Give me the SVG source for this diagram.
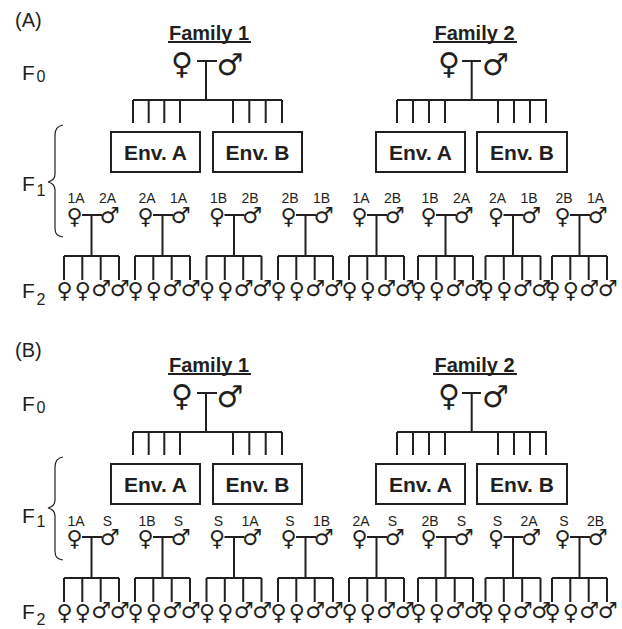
<svg xmlns="http://www.w3.org/2000/svg" width="622" height="629" viewBox="0 0 622 629">
<style>
.ln{stroke:#231f20;stroke-width:2;fill:none;stroke-linecap:butt}
.br{stroke:#231f20;stroke-width:1.2;fill:none}
.box{stroke:#231f20;stroke-width:2;fill:#fff}
.t{font-family:"Liberation Sans",Arial,sans-serif;fill:#231f20}
.sy{font-family:"DejaVu Sans",sans-serif;fill:#231f20}
.sec{font-size:20px}
.gen{font-size:21px}
.sub{font-size:16px}
.fam{font-size:20px;font-weight:bold;text-anchor:middle}
.env{font-size:21px;font-weight:bold;text-anchor:middle}
.lab{font-size:14px;text-anchor:middle}
.s0{font-size:30px;text-anchor:middle}
.s1{font-size:22px;text-anchor:middle}
</style>
<rect width="622" height="629" fill="#fff"/>

<!-- ===== Section A ===== -->
<g id="labelA"><text class="t sec" x="15" y="27">(A)</text></g>
<g id="genA0"><text class="t gen" x="22" y="80">F</text><text class="t sub" x="36.5" y="82">0</text></g>
<g id="genA1"><text class="t gen" x="22" y="191">F</text><text class="t sub" x="36.5" y="196">1</text></g>
<g id="genA2"><text class="t gen" x="22" y="298">F</text><text class="t sub" x="36.5" y="305">2</text></g>
<g id="braceA"><path class="br" d="M63,125 C57,126 55,129 55,135 L55,174 C55,179 52,181 48,182 C52,183 55,185 55,190 L55,228 C55,234 57,236 63,237"/></g>

<g id="famA1"><text class="t fam" x="209" y="39.5">Family 1</text><line class="ln" x1="168" y1="42" x2="251" y2="42" stroke-width="1.6"/></g>
<g id="famA2"><text class="t fam" x="474.5" y="39.5">Family 2</text><line class="ln" x1="433" y1="42" x2="517" y2="42" stroke-width="1.6"/></g>

<g id="pA1"><text class="sy s0" x="182" y="74">♀</text><text class="sy s0" x="230" y="75">♂</text></g>
<g id="pA2"><text class="sy s0" x="449" y="74">♀</text><text class="sy s0" x="495.5" y="75">♂</text></g>

<g id="envA1a"><rect class="box" x="111" y="132" width="89" height="40"/><text class="t env" x="155.5" y="159.5">Env. A</text></g>
<g id="envA1b"><rect class="box" x="213" y="132" width="89" height="40"/><text class="t env" x="257.5" y="159.5">Env. B</text></g>
<g id="envA2a"><rect class="box" x="376" y="132" width="89" height="40"/><text class="t env" x="420.5" y="159.5">Env. A</text></g>
<g id="envA2b"><rect class="box" x="477" y="132" width="90" height="40"/><text class="t env" x="522" y="159.5">Env. B</text></g>

<g id="f1A1"><text class="t lab" x="76" y="203">1A</text><text class="t lab" x="107.5" y="203">2A</text><text class="sy s1" x="74.5" y="224">♀</text><text class="sy s1" x="109.5" y="223">♂</text></g>
<g id="f1A2"><text class="t lab" x="147" y="203">2A</text><text class="t lab" x="178.5" y="203">1A</text><text class="sy s1" x="145.5" y="224">♀</text><text class="sy s1" x="180.5" y="223">♂</text></g>
<g id="f1A3"><text class="t lab" x="218.5" y="203">1B</text><text class="t lab" x="250" y="203">2B</text><text class="sy s1" x="217" y="224">♀</text><text class="sy s1" x="252" y="223">♂</text></g>
<g id="f1A4"><text class="t lab" x="290" y="203">2B</text><text class="t lab" x="321.5" y="203">1B</text><text class="sy s1" x="288.5" y="224">♀</text><text class="sy s1" x="323.5" y="223">♂</text></g>
<g id="f1A5"><text class="t lab" x="361" y="203">1A</text><text class="t lab" x="392.5" y="203">2B</text><text class="sy s1" x="359.5" y="224">♀</text><text class="sy s1" x="394.5" y="223">♂</text></g>
<g id="f1A6"><text class="t lab" x="430" y="203">1B</text><text class="t lab" x="461.5" y="203">2A</text><text class="sy s1" x="428.5" y="224">♀</text><text class="sy s1" x="463.5" y="223">♂</text></g>
<g id="f1A7"><text class="t lab" x="497.5" y="203">2A</text><text class="t lab" x="529" y="203">1B</text><text class="sy s1" x="496" y="224">♀</text><text class="sy s1" x="531" y="223">♂</text></g>
<g id="f1A8"><text class="t lab" x="564" y="203">2B</text><text class="t lab" x="595.5" y="203">1A</text><text class="sy s1" x="562.5" y="224">♀</text><text class="sy s1" x="597.5" y="223">♂</text></g>

<g id="f2A1"><text class="sy s1" x="64.5 82.8 101.2 119.5" y="298 298 296 296">♀♀♂♂</text></g>
<g id="f2A2"><text class="sy s1" x="135.5 153.8 172.2 190.5" y="298 298 296 296">♀♀♂♂</text></g>
<g id="f2A3"><text class="sy s1" x="207 225.3 243.7 262" y="298 298 296 296">♀♀♂♂</text></g>
<g id="f2A4"><text class="sy s1" x="278.5 296.8 315.2 333.5" y="298 298 296 296">♀♀♂♂</text></g>
<g id="f2A5"><text class="sy s1" x="349.5 367.8 386.2 404.5" y="298 298 296 296">♀♀♂♂</text></g>
<g id="f2A6"><text class="sy s1" x="418.5 436.8 455.2 473.5" y="298 298 296 296">♀♀♂♂</text></g>
<g id="f2A7"><text class="sy s1" x="486 504.3 522.7 541" y="298 298 296 296">♀♀♂♂</text></g>
<g id="f2A8"><text class="sy s1" x="552.5 570.8 589.2 607.5" y="298 298 296 296">♀♀♂♂</text></g>

<g id="connA" class="ln">
<path d="M197,61H217M206,61V100M133,100H282M133,100V123M148.7,100V123M164.3,100V123M180,100V123M233,100V123M249.3,100V123M265.7,100V123M282,100V123"/>
<path d="M462,61H481M471.7,61V100M397,100H547M397,100V123M413,100V123M429,100V123M445,100V123M498,100V123M514,100V123M530,100V123M546,100V123"/>
<path d="M82,215H102M91.5,215V256M64,256H119M64,256V280M82.3,256V280M100.7,256V280M119,256V280"/>
<path d="M153,215H173M162.5,215V256M135,256H190M135,256V280M153.3,256V280M171.7,256V280M190,256V280"/>
<path d="M224.5,215H244.5M234,215V256M206.5,256H261.5M206.5,256V280M224.8,256V280M243.2,256V280M261.5,256V280"/>
<path d="M296,215H316M305.5,215V256M278,256H333M278,256V280M296.3,256V280M314.7,256V280M333,256V280"/>
<path d="M367,215H387M376.5,215V256M349,256H404M349,256V280M367.3,256V280M385.7,256V280M404,256V280"/>
<path d="M436,215H456M445.5,215V256M418,256H473M418,256V280M436.3,256V280M454.7,256V280M473,256V280"/>
<path d="M503.5,215H523.5M513,215V256M485.5,256H540.5M485.5,256V280M503.8,256V280M522.2,256V280M540.5,256V280"/>
<path d="M570,215H590M579.5,215V256M552,256H607M552,256V280M570.3,256V280M588.7,256V280M607,256V280"/>
</g>

<!-- ===== Section B ===== -->
<g id="labelB"><text class="t sec" x="15" y="357">(B)</text></g>
<g id="genB0"><text class="t gen" x="22" y="411">F</text><text class="t sub" x="36.5" y="413">0</text></g>
<g id="genB1"><text class="t gen" x="22" y="523">F</text><text class="t sub" x="36.5" y="527">1</text></g>
<g id="genB2"><text class="t gen" x="22" y="618.5">F</text><text class="t sub" x="36.5" y="625">2</text></g>
<g id="braceB"><path class="br" d="M63,457 C57,458 55,461 55,467 L55,500 C55,505 52,507 48,508 C52,509 55,511 55,516 L55,551 C55,557 57,559 63,560"/></g>

<g id="famB1"><text class="t fam" x="209" y="371.5">Family 1</text><line class="ln" x1="168" y1="374" x2="251" y2="374" stroke-width="1.6"/></g>
<g id="famB2"><text class="t fam" x="474.5" y="371.5">Family 2</text><line class="ln" x1="433" y1="374" x2="517" y2="374" stroke-width="1.6"/></g>

<g id="pB1"><text class="sy s0" x="182" y="406">♀</text><text class="sy s0" x="230" y="407">♂</text></g>
<g id="pB2"><text class="sy s0" x="449" y="406">♀</text><text class="sy s0" x="495.5" y="407">♂</text></g>

<g id="envB1a"><rect class="box" x="111" y="464" width="89" height="40"/><text class="t env" x="155.5" y="491.5">Env. A</text></g>
<g id="envB1b"><rect class="box" x="213" y="464" width="89" height="40"/><text class="t env" x="257.5" y="491.5">Env. B</text></g>
<g id="envB2a"><rect class="box" x="376" y="464" width="89" height="40"/><text class="t env" x="420.5" y="491.5">Env. A</text></g>
<g id="envB2b"><rect class="box" x="477" y="464" width="90" height="40"/><text class="t env" x="522" y="491.5">Env. B</text></g>

<g id="f1B1"><text class="t lab" x="76" y="526">1A</text><text class="t lab" x="107.5" y="526">S</text><text class="sy s1" x="74.5" y="546">♀</text><text class="sy s1" x="109.5" y="545">♂</text></g>
<g id="f1B2"><text class="t lab" x="147" y="526">1B</text><text class="t lab" x="178.5" y="526">S</text><text class="sy s1" x="145.5" y="546">♀</text><text class="sy s1" x="180.5" y="545">♂</text></g>
<g id="f1B3"><text class="t lab" x="218.5" y="526">S</text><text class="t lab" x="250" y="526">1A</text><text class="sy s1" x="217" y="546">♀</text><text class="sy s1" x="252" y="545">♂</text></g>
<g id="f1B4"><text class="t lab" x="290" y="526">S</text><text class="t lab" x="321.5" y="526">1B</text><text class="sy s1" x="288.5" y="546">♀</text><text class="sy s1" x="323.5" y="545">♂</text></g>
<g id="f1B5"><text class="t lab" x="361" y="526">2A</text><text class="t lab" x="392.5" y="526">S</text><text class="sy s1" x="359.5" y="546">♀</text><text class="sy s1" x="394.5" y="545">♂</text></g>
<g id="f1B6"><text class="t lab" x="430" y="526">2B</text><text class="t lab" x="461.5" y="526">S</text><text class="sy s1" x="428.5" y="546">♀</text><text class="sy s1" x="463.5" y="545">♂</text></g>
<g id="f1B7"><text class="t lab" x="497.5" y="526">S</text><text class="t lab" x="529" y="526">2A</text><text class="sy s1" x="496" y="546">♀</text><text class="sy s1" x="531" y="545">♂</text></g>
<g id="f1B8"><text class="t lab" x="564" y="526">S</text><text class="t lab" x="595.5" y="526">2B</text><text class="sy s1" x="562.5" y="546">♀</text><text class="sy s1" x="597.5" y="545">♂</text></g>

<g id="f2B1"><text class="sy s1" x="64.5 82.8 101.2 119.5" y="620 620 618 618">♀♀♂♂</text></g>
<g id="f2B2"><text class="sy s1" x="135.5 153.8 172.2 190.5" y="620 620 618 618">♀♀♂♂</text></g>
<g id="f2B3"><text class="sy s1" x="207 225.3 243.7 262" y="620 620 618 618">♀♀♂♂</text></g>
<g id="f2B4"><text class="sy s1" x="278.5 296.8 315.2 333.5" y="620 620 618 618">♀♀♂♂</text></g>
<g id="f2B5"><text class="sy s1" x="349.5 367.8 386.2 404.5" y="620 620 618 618">♀♀♂♂</text></g>
<g id="f2B6"><text class="sy s1" x="418.5 436.8 455.2 473.5" y="620 620 618 618">♀♀♂♂</text></g>
<g id="f2B7"><text class="sy s1" x="486 504.3 522.7 541" y="620 620 618 618">♀♀♂♂</text></g>
<g id="f2B8"><text class="sy s1" x="552.5 570.8 589.2 607.5" y="620 620 618 618">♀♀♂♂</text></g>

<g id="connB" class="ln">
<path d="M197,393H217M206,393V432M133,432H282M133,432V455M148.7,432V455M164.3,432V455M180,432V455M233,432V455M249.3,432V455M265.7,432V455M282,432V455"/>
<path d="M462,393H481M471.7,393V432M397,432H547M397,432V455M413,432V455M429,432V455M445,432V455M498,432V455M514,432V455M530,432V455M546,432V455"/>
<path d="M82,537H102M91.5,537V578M64,578H119M64,578V602M82.3,578V602M100.7,578V602M119,578V602"/>
<path d="M153,537H173M162.5,537V578M135,578H190M135,578V602M153.3,578V602M171.7,578V602M190,578V602"/>
<path d="M224.5,537H244.5M234,537V578M206.5,578H261.5M206.5,578V602M224.8,578V602M243.2,578V602M261.5,578V602"/>
<path d="M296,537H316M305.5,537V578M278,578H333M278,578V602M296.3,578V602M314.7,578V602M333,578V602"/>
<path d="M367,537H387M376.5,537V578M349,578H404M349,578V602M367.3,578V602M385.7,578V602M404,578V602"/>
<path d="M436,537H456M445.5,537V578M418,578H473M418,578V602M436.3,578V602M454.7,578V602M473,578V602"/>
<path d="M503.5,537H523.5M513,537V578M485.5,578H540.5M485.5,578V602M503.8,578V602M522.2,578V602M540.5,578V602"/>
<path d="M570,537H590M579.5,537V578M552,578H607M552,578V602M570.3,578V602M588.7,578V602M607,578V602"/>
</g>
</svg>
